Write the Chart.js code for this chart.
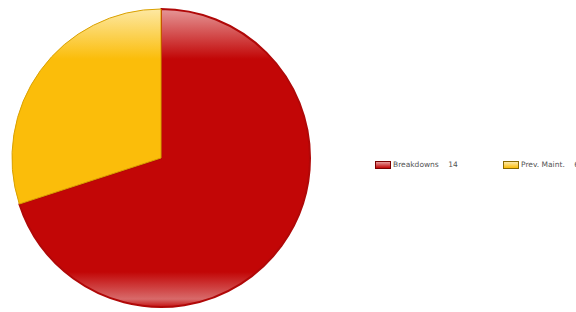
<!DOCTYPE html>
<html>
<head>
<meta charset="utf-8">
<script src="https://cdn.jsdelivr.net/npm/chart.js@4/dist/chart.umd.min.js"></script>
<style>
  html, body { margin: 0; padding: 0; background: #fff; }
  #wrap { position: relative; width: 576px; height: 312px; overflow: hidden; }
  #box { position: absolute; left: 0; top: 0; width: 322px; height: 312px; }
  #legend { position: absolute; left: 375px; top: 160px; white-space: nowrap;
            font-family: "DejaVu Sans", sans-serif; font-size: 7.5px; color: #555; }
  #legend i { display: inline-block; width: 14px; height: 6px; vertical-align: middle;
              margin-right: 2px; border: 1px solid #777; }
</style>
</head>
<body>
<div id="wrap">
  <div id="box"><canvas id="pie-chart"></canvas></div>
  <div id="legend"></div>
</div>
<script>
const labels = ["Breakdowns", "Prev. Maint."]
const values = [14, 6]
const baseColors = ["#c20606", "#fbbd0a"]
const topColors = ["#e69a9a", "#fde9a6"]
const legendX = [375, 503]

function glossy(context){
    const chart = context.chart
    const area = chart.chartArea
    const i = context.dataIndex
    if(!area) return baseColors[i]
    const g = chart.ctx.createLinearGradient(0, area.top, 0, area.bottom)
    g.addColorStop(0, topColors[i])
    g.addColorStop(0.17, baseColors[i])
    g.addColorStop(0.88, baseColors[i])
    g.addColorStop(0.97, i === 0 ? '#d86a6a' : topColors[i])
    g.addColorStop(1, baseColors[i])
    return g
}

new Chart(document.getElementById('pie-chart'), {
    type: 'pie',
    data: {
      labels: labels,
      datasets: [{
        backgroundColor: glossy,
        borderColor: ["#b00808", "#d9a000"],
        borderWidth: [2, 1],
        data: values
      }]
    },
    options: {
      responsive: true,
      maintainAspectRatio: false,
      animation: false,
      layout: { padding: { top: 8, bottom: 4, left: 0, right: 0 } },
      plugins: {
        legend: { display: false },
        tooltip: { enabled: false }
      }
    }
});

const legend = document.getElementById('legend')
labels.forEach((lab, i) => {
    const s = document.createElement('span')
    s.style.position = 'absolute'
    s.style.left = (legendX[i] - 375) + 'px'
    s.innerHTML = '<i style="background:linear-gradient(' + topColors[i] + ',' + baseColors[i] + ');border-color:' + (i === 0 ? '#7a0000' : '#8a6a00') + '"></i>' + lab + '&nbsp;&nbsp;&nbsp;&nbsp;' + values[i]
    legend.appendChild(s)
})
</script>
</body>
</html>
